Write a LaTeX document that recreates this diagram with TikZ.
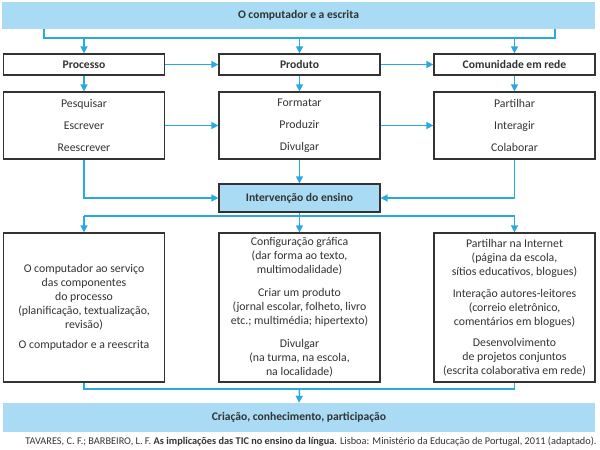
\documentclass[tikz,border=0pt]{standalone}
\usepackage{fontspec}
\setmainfont{Carlito}
\usetikzlibrary{arrows.meta, positioning}

\definecolor{azul}{HTML}{29A9E1}
\definecolor{azulclaro}{HTML}{A9DCF4}
\definecolor{cinza}{HTML}{333333}

\begin{document}
\begin{tikzpicture}[x=1pt, y=-1pt,
  caixa/.style={draw=cinza, line width=1.2pt, fill=white, text=cinza,
    align=center, inner sep=0pt, minimum width=161pt,
    font=\fontsize{11.8}{14}\selectfont},
  cabeca/.style={caixa, font=\bfseries\fontsize{11.6}{14}\selectfont},
  faixa/.style={fill=azulclaro, text=cinza, inner sep=0pt,
    font=\bfseries\fontsize{11.6}{14}\selectfont},
  linha/.style={draw=azul, line width=1.4pt},
  seta/.style={linha, -{Triangle[length=7pt,width=7pt]}}]

% keep the page at 600 x 450
\useasboundingbox (0,0) rectangle (600,450);

\node[faixa, minimum width=593pt, minimum height=27pt] (titulo) at (298.5,15) {O computador e a escrita};
\node[faixa, minimum width=592pt, minimum height=29pt] (criacao) at (299,417.5) {Criação, conhecimento, participação};

% first row
\node[cabeca, minimum height=21pt] (processo) at (84,64.5) {Processo};
\node[cabeca, minimum height=21pt] (produto) at (299.5,64.5) {Produto};
\node[cabeca, minimum height=21pt] (comunidade) at (514.5,64.5) {Comunidade em rede};

% second row
\node[caixa, minimum height=67pt] (pesquisar) at (84,125.5) {Pesquisar\\[8pt]Escrever\\[8pt]Reescrever};
\node[caixa, minimum height=67pt] (formatar) at (299.5,125.5) {Formatar\\[8pt]Produzir\\[8pt]Divulgar};
\node[caixa, minimum height=67pt] (partilhar) at (514.5,125.5) {Partilhar\\[8pt]Interagir\\[8pt]Colaborar};

\node[cabeca, fill=azulclaro, minimum height=28pt] (ensino) at (299.5,198) {Intervenção do ensino};

% third row
\node[caixa, minimum height=149pt] (servico) at (84,307.5) {O computador ao serviço\\das componentes\\do processo\\(planificação, textualização,\\revisão)\\[6pt]O computador e a reescrita};
\node[caixa, minimum height=149pt] (configuracao) at (299.5,307.5) {Configuração gráfica\\(dar forma ao texto,\\multimodalidade)\\[9pt]Criar um produto\\(jornal escolar, folheto, livro\\etc.; multimédia; hipertexto)\\[9pt]Divulgar\\(na turma, na escola,\\na localidade)};
\node[caixa, minimum height=149pt] (internet) at (514.5,307.5) {Partilhar na Internet\\(página da escola,\\sítios educativos, blogues)\\[8pt]Interação autores-leitores\\(correio eletrônico,\\comentários em blogues)\\[7pt]Desenvolvimento\\de projetos conjuntos\\(escrita colaborativa em rede)};

\node[text=cinza, inner sep=0pt, font=\fontsize{10.3}{12}\selectfont] (fonte) at (311,442) {TAVARES, C. F.; BARBEIRO, L. F. \textbf{As implicações das TIC no ensino da língua}. Lisboa: Ministério da Educação de Portugal, 2011 (adaptado).};

% from the title down
\coordinate (e) at (44,38);
\coordinate (d) at (555,38);
\draw[linha] (titulo.south -| e) -- (e) -- (d) -- (titulo.south -| d);
\foreach \n in {processo, produto, comunidade}
  \draw[seta] (\n.north |- e) -- (\n.north);

\draw[seta] (processo) -- (produto);
\draw[seta] (produto) -- (comunidade);
\draw[seta] (processo) -- (pesquisar);
\draw[seta] (produto) -- (formatar);
\draw[seta] (comunidade) -- (partilhar);
\draw[seta] (pesquisar) -- (formatar);
\draw[seta] (formatar) -- (partilhar);

% into the teaching box
\draw[seta] (pesquisar.south) |- (ensino.west);
\draw[seta] (formatar) -- (ensino);
\draw[seta] (partilhar.south) |- (ensino.east);

\coordinate (m) at (0,216);
\draw[linha] (ensino.south) -- (ensino.south |- m);
\draw[linha] (servico.north |- m) -- (internet.north |- m);
\foreach \n in {servico, configuracao, internet}
  \draw[seta] (\n.north |- m) -- (\n.north);

% down to the last band
\coordinate (b) at (0,389);
\draw[linha] (servico.south) |- (internet.south |- b) -- (internet.south);
\draw[seta] (configuracao.south |- b) -- (criacao.north);

\end{tikzpicture}
\end{document}
